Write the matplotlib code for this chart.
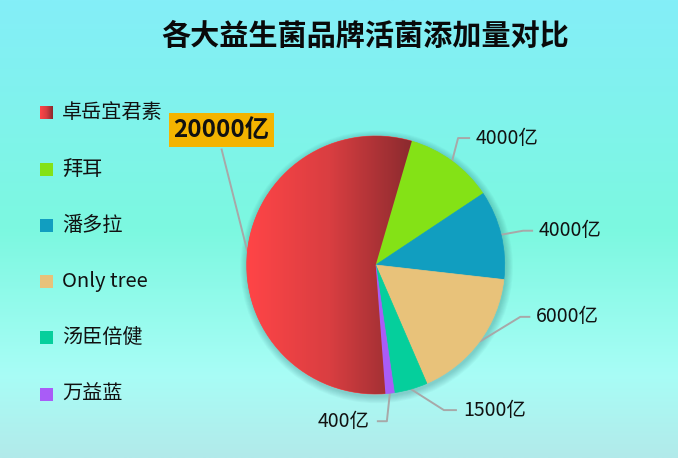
import numpy as np
import matplotlib
matplotlib.use('Agg')
import matplotlib.pyplot as plt
from matplotlib.patches import Rectangle, Circle
from matplotlib.colors import LinearSegmentedColormap

plt.rcParams['font.family'] = ['Noto Sans CJK SC', 'DejaVu Sans']

# ---------------- data ----------------
title = '各大益生菌品牌活菌添加量对比'
brands = ['卓岳宜君素', '拜耳', '潘多拉', 'Only tree', '汤臣倍健', '万益蓝']
values = [20000, 4000, 4000, 6000, 1500, 400]
unit = '亿'

# ---------------- style ----------------
colors = ['#fd4446', '#84e216', '#119ec0', '#e8c27a', '#05cf9c', '#a95cf7']
red_grad = [(0, '#ff4547'), (0.5, '#d93e41'), (1, '#8a2a2e')]
bg_grad = [(0, '#84eef8'), (0.5, '#7cf8e0'), (0.82, '#a8fdf6'), (1, '#b2eaea')]

W, H = 678, 458
fig = plt.figure(figsize=(W / 100, H / 100), dpi=100)
ax = fig.add_axes([0, 0, 1, 1])

cx, cy, r = 375.7, H - 265, 129

wedges, _ = ax.pie(values, colors=colors, startangle=-85.7, counterclock=False,
                   center=(cx, cy), radius=r,
                   wedgeprops=dict(linewidth=0.5, edgecolor=None))
for w, c in zip(wedges, colors):
    w.set_edgecolor(c)
    w.set_zorder(3)

ax.set_xlim(0, W)
ax.set_ylim(0, H)
ax.set_aspect('equal')
ax.axis('off')

# background gradient
bg = LinearSegmentedColormap.from_list('bg', bg_grad)
ax.imshow(np.linspace(0, 1, 256).reshape(-1, 1), cmap=bg, extent=[0, W, 0, H],
          origin='upper', aspect='auto', zorder=0)

# pie shadow
for i in range(1, 9):
    ax.add_patch(Circle((cx + 1, cy - 2), r + i * 0.9, color='#0a4a50',
                        alpha=0.03, lw=0, zorder=1))

# red gradient fill clipped to first wedge
rg = LinearSegmentedColormap.from_list('rg', red_grad)
w0 = wedges[0]
angs = np.radians(np.linspace(w0.theta1, w0.theta2, 400))
xs = np.concatenate([cx + r * np.cos(angs), [cx]])
im = ax.imshow(np.linspace(0, 1, 256).reshape(1, -1), cmap=rg,
               extent=[xs.min(), xs.max(), cy - r, cy + r], aspect='auto', zorder=4)
im.set_clip_path(w0)
ax.set_xlim(0, W)
ax.set_ylim(0, H)

# labels with leader lines (layout offsets in pixels: elbow dx, dy (screen), horizontal length)
layout = [(-26, -103, 0), (6, -23, 12), (22, -4, 10), (41, -25, 10), (33, 21, 13), (-3, 28, -10)]
line_c = '#a8a8a8'
for i, (w, v) in enumerate(zip(wedges, values)):
    mid = np.radians((w.theta1 + w.theta2) / 2)
    sx, sy = cx + r * np.cos(mid), cy + r * np.sin(mid)
    ex, ey = sx + layout[i][0], sy - layout[i][1]
    hx = ex + layout[i][2]
    ax.plot([sx, ex, hx], [sy, ey, ey], color=line_c, lw=1.4, zorder=2,
            solid_capstyle='butt')
    txt = f'{v}{unit}'
    if i == 0:
        ax.text(ex, ey + 18.5, txt, ha='center', va='center', fontsize=17.5,
                fontweight='bold', color='#111111', zorder=6,
                bbox=dict(boxstyle='square,pad=0.2', fc='#f4b400', ec='none'))
    elif layout[i][2] >= 0:
        ax.text(hx + 6, ey, txt, ha='left', va='center', fontsize=14,
                color='#111111', zorder=6)
    else:
        ax.text(hx - 7, ey, txt, ha='right', va='center', fontsize=14,
                color='#111111', zorder=6)

# title
ax.text(365.5, H - 36, title, ha='center', va='center', fontsize=21,
        fontweight='bold', color='#0a0a0a', zorder=6)

# legend
leg_x, leg_y0, leg_dy, sq = 40, 112.7, 56.3, 13
for i, (b, c) in enumerate(zip(brands, colors)):
    yc = H - (leg_y0 + i * leg_dy)
    rect = Rectangle((leg_x, yc - sq / 2), sq, sq, fc=c, ec='none', zorder=5)
    ax.add_patch(rect)
    if i == 0:
        gi = ax.imshow(np.linspace(0, 1, 64).reshape(1, -1), cmap=rg,
                       extent=[leg_x, leg_x + sq, yc - sq / 2, yc + sq / 2],
                       aspect='auto', zorder=6)
        gi.set_clip_path(rect)
    ax.text(leg_x + 22, yc, b, ha='left', va='center', fontsize=14.5,
            color='#111111', zorder=6)

ax.set_xlim(0, W)
ax.set_ylim(0, H)
fig.savefig('out.png', dpi=100)
